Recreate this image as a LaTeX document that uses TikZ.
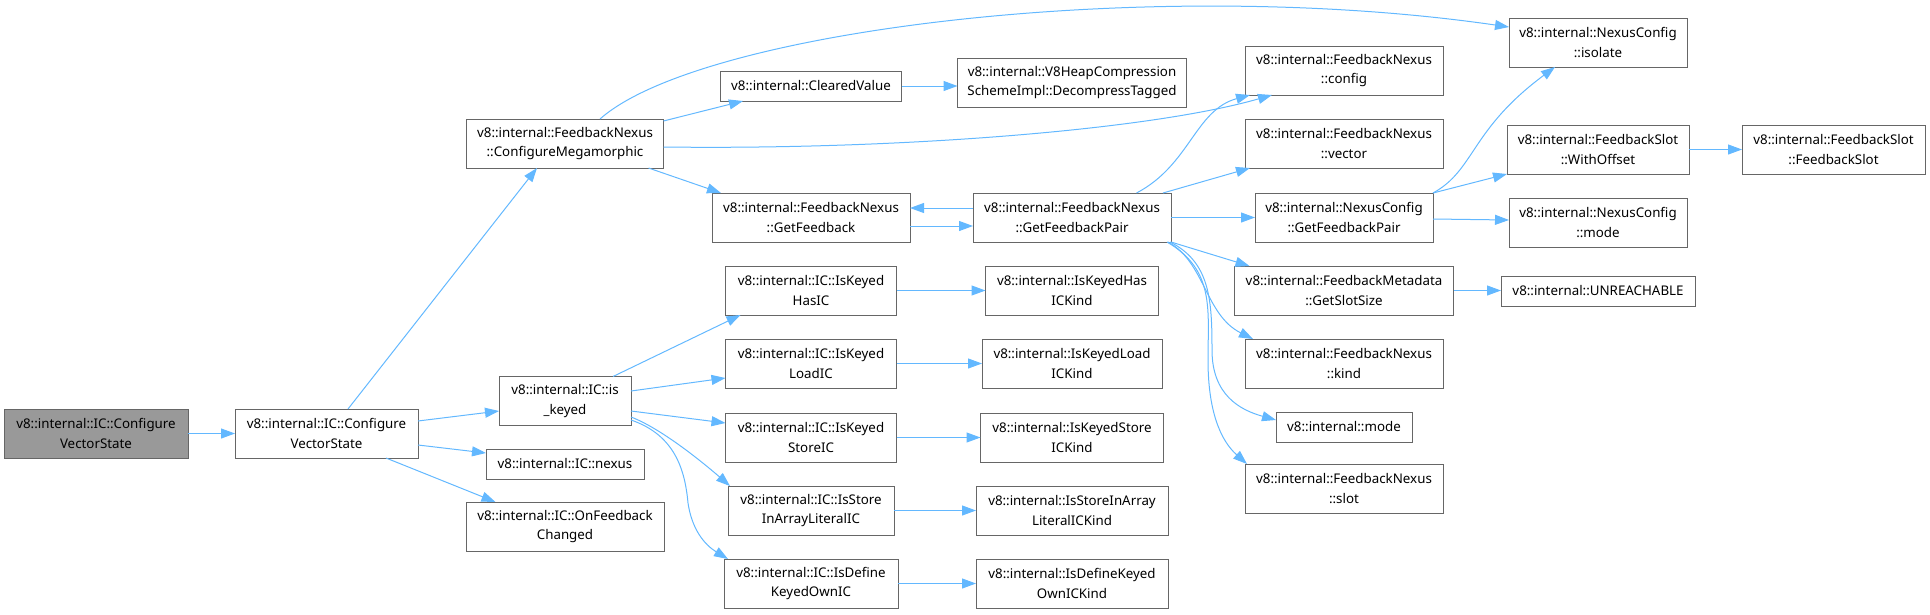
\documentclass[tikz,border=0pt]{standalone}
\usepackage{fontspec}
\setmainfont{Noto Sans}
\usetikzlibrary{arrows.meta,calc}
\definecolor{edgeblue}{HTML}{63B8FF}
\definecolor{bordergray}{HTML}{666666}
\definecolor{rootgray}{HTML}{999999}
\tikzset{
  box/.style={draw=bordergray, line width=1pt, fill=white, align=center, inner sep=0pt, outer sep=0pt,
    font=\fontsize{13.33}{19.3}\selectfont, text=black},
  two/.style={box, minimum height=49pt},
  one/.style={box, minimum height=30pt},
  rootbox/.style={two, fill=rootgray},
  link/.style={draw=edgeblue, line width=1pt, -{Triangle[length=14pt,width=10pt]}},
}
\begin{document}
\begin{tikzpicture}[x=1pt,y=-1pt]
\useasboundingbox (0,0) rectangle (1930,614);
% rank 0-1
\node[rootbox, minimum width=184pt] (root) at (96,433.5) {v8::internal::IC::Configure\\VectorState};
\node[two, minimum width=183pt] (cvs) at (326.5,433.5) {v8::internal::IC::Configure\\VectorState};
% rank 2
\node[two, minimum width=197pt] (cmeg) at (565,143.5) {v8::internal::FeedbackNexus\\::ConfigureMegamorphic};
\node[two, minimum width=132pt] (iskeyed) at (565,401) {v8::internal::IC::is\\\_keyed};
\node[one, minimum width=158pt] (nexus) at (565,464) {v8::internal::IC::nexus};
\node[two, minimum width=198pt] (onfb) at (565,526.5) {v8::internal::IC::OnFeedback\\Changed};
% rank 3
\node[one, minimum width=181pt] (cleared) at (811,86) {v8::internal::ClearedValue};
\node[two, minimum width=198pt] (getfb) at (811,217.5) {v8::internal::FeedbackNexus\\::GetFeedback};
\node[two, minimum width=171pt] (haskic) at (811,290.5) {v8::internal::IC::IsKeyed\\HasIC};
\node[two, minimum width=171pt] (loadic) at (811,363.5) {v8::internal::IC::IsKeyed\\LoadIC};
\node[two, minimum width=171pt] (storeic) at (811,437.5) {v8::internal::IC::IsKeyed\\StoreIC};
\node[two, minimum width=166pt] (arric) at (811,510.5) {v8::internal::IC::IsStore\\InArrayLiteralIC};
\node[two, minimum width=174pt] (defic) at (811,583.5) {v8::internal::IC::IsDefine\\KeyedOwnIC};
% rank 4
\node[two, minimum width=229pt] (v8heap) at (1072,82.5) {v8::internal::V8HeapCompression\\SchemeImpl::DecompressTagged};
\node[two, minimum width=198pt] (gfpair) at (1072,217.5) {v8::internal::FeedbackNexus\\::GetFeedbackPair};
\node[two, minimum width=173pt] (haskind) at (1072,290.5) {v8::internal::IsKeyedHas\\ICKind};
\node[two, minimum width=180pt] (loadkind) at (1072,363.5) {v8::internal::IsKeyedLoad\\ICKind};
\node[two, minimum width=183pt] (storekind) at (1072,437.5) {v8::internal::IsKeyedStore\\ICKind};
\node[two, minimum width=192pt] (arrkind) at (1072,510.5) {v8::internal::IsStoreInArray\\LiteralICKind};
\node[two, minimum width=192pt] (defkind) at (1072,583.5) {v8::internal::IsDefineKeyed\\OwnICKind};
% rank 5
\node[two, minimum width=198pt] (config) at (1344,70.5) {v8::internal::FeedbackNexus\\::config};
\node[two, minimum width=198pt] (vector) at (1344,143.5) {v8::internal::FeedbackNexus\\::vector};
\node[two, minimum width=178pt] (ncgfp) at (1344,217.5) {v8::internal::NexusConfig\\::GetFeedbackPair};
\node[two, minimum width=219pt] (slotsize) at (1344,290.5) {v8::internal::FeedbackMetadata\\::GetSlotSize};
\node[two, minimum width=198pt] (kind) at (1344,363.5) {v8::internal::FeedbackNexus\\::kind};
\node[one, minimum width=136pt] (mode) at (1344,427) {v8::internal::mode};
\node[two, minimum width=198pt] (slot) at (1344,488.5) {v8::internal::FeedbackNexus\\::slot};
% rank 6
\node[two, minimum width=178pt] (isolate) at (1598,42.5) {v8::internal::NexusConfig\\::isolate};
\node[two, minimum width=182pt] (withoff) at (1598,149.5) {v8::internal::FeedbackSlot\\::WithOffset};
\node[two, minimum width=178pt] (ncmode) at (1598,222.5) {v8::internal::NexusConfig\\::mode};
\node[one, minimum width=194pt] (unreach) at (1598,291) {v8::internal::UNREACHABLE};
% rank 7
\node[two, minimum width=183pt] (fslot) at (1833.5,149.5) {v8::internal::FeedbackSlot\\::FeedbackSlot};

% edges
\draw[link] (root.east) -- (cvs.west);
\draw[link] ($(cvs.north)+(21.5,0)$) -- ($(cmeg.south)+(-28,0)$);
\draw[link] ($(cvs.east)+(0,-12.5)$) -- ($(iskeyed.west)+(0,10)$);
\draw[link] ($(cvs.east)+(0,11.5)$) -- ($(nexus.west)+(0,-11)$);
\draw[link] ($(cvs.south)+(59.5,0)$) -- ($(onfb.north)+(-69.5,0)$);

\draw[link] ($(cmeg.east)+(0,-22.5)$) -- ($(cleared.south)+(-68,0)$);
\draw[link] ($(cmeg.north)+(35,0)$) .. controls (700,30) and (1150,-25) .. ($(isolate.west)+(0,-15.5)$);
\draw[link] ($(cmeg.east)+(0,3.5)$) .. controls (900,150) and (1150,130) .. ($(config.south)+(-72,0)$);
\draw[link] ($(cmeg.south)+(83.5,0)$) -- ($(getfb.north)+(-90,0)$);

\draw[link] (cleared.east) -- (cleared.east -| v8heap.west);
\draw[link] ($(getfb.east)+(0,8.5)$) -- ($(gfpair.west)+(0,8.5)$);
\draw[link] ($(gfpair.west)+(0,-9.5)$) -- ($(getfb.east)+(0,-9.5)$);

\draw[link] ($(gfpair.north)+(64.5,0)$) .. controls (1190,165) and (1195,110) .. ($(config.south)+(-94,0)$);
\draw[link] ($(gfpair.north east)+(-8,0)$) -- ($(vector.south west)+(5,0)$);
\draw[link] (gfpair.east) -- (ncgfp.west);
\draw[link] (gfpair.south east) -- ($(slotsize.north west)+(15,0)$);
\draw[link] ($(gfpair.south east)+(-3,0)$) .. controls (1205,262) and (1205,315) .. ($(kind.north west)+(8,0)$);
\draw[link] ($(gfpair.south east)+(-1,0)$) .. controls (1210,262) and (1212,300) .. (1212,350)
   .. controls (1212,395) and (1240,410) .. ($(mode.west)+(0,-7)$);
\draw[link] ($(gfpair.south east)+(-4,0)$) .. controls (1215,270) and (1208,310) .. (1208,360)
   .. controls (1208,410) and (1220,440) .. ($(slot.north west)+(2,0)$);

\draw[link] (ncgfp.north east) .. controls (1475,170) and (1470,130) .. ($(isolate.south)+(-43,0)$);
\draw[link] (ncgfp.north east) -- (withoff.south west);
\draw[link] ($(ncgfp.east)+(0,1.5)$) -- ($(ncmode.west)+(0,-2.5)$);
\draw[link] (withoff.east) -- (fslot.west);
\draw[link] (slotsize.east) -- (slotsize.east -| unreach.west);

\draw[link] ($(iskeyed.north)+(48,0)$) -- ($(haskic.south)+(-70.5,0)$);
\draw[link] ($(iskeyed.east)+(0,-10)$) -- ($(loadic.west)+(0,14.5)$);
\draw[link] ($(iskeyed.east)+(0,10)$) -- ($(storeic.west)+(0,-14.5)$);
\draw[link] ($(iskeyed.east)+(0,16)$) .. controls (660,428) and (700,460) .. ($(arric.north west)+(2,0)$);
\draw[link] ($(iskeyed.east)+(0,19)$) .. controls (675,435) and (685,470) .. (688,503)
   .. controls (692,530) and (705,545) .. ($(defic.north west)+(4,0)$);

\draw[link] (haskic.east) -- (haskind.west);
\draw[link] (loadic.east) -- (loadkind.west);
\draw[link] (storeic.east) -- (storekind.west);
\draw[link] (arric.east) -- (arrkind.west);
\draw[link] (defic.east) -- (defkind.west);
\end{tikzpicture}
\end{document}
